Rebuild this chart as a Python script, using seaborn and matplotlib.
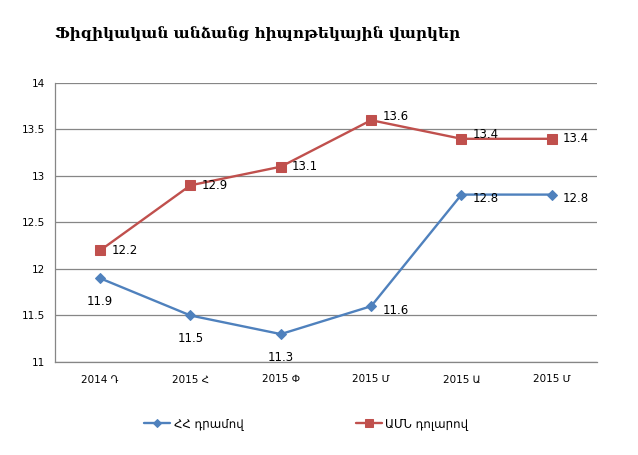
import pandas as pd
import seaborn as sns
import matplotlib.pyplot as plt

# quarters and series values
quarters = ["2014 Դ", "2015 Հ", "2015 Փ", "2015 Մ", "2015 Ա", "2015 Մ"]
amd_rates = [11.9, 11.5, 11.3, 11.6, 12.8, 12.8]
usd_rates = [12.2, 12.9, 13.1, 13.6, 13.4, 13.4]
amd_name = "ՀՀ դրամով"
usd_name = "ԱՄՆ դոլարով"
title = "Ֆիզիկական անձանց հիպոթեկային վարկեր"

sns.set_theme(style="white")
plt.rcParams["font.family"] = ["DejaVu Sans"]
plt.rcParams["text.color"] = "black"
plt.rcParams["xtick.color"] = "black"
plt.rcParams["ytick.color"] = "black"

pos = list(range(len(quarters)))
df_amd = pd.DataFrame({"pos": pos, "rate": amd_rates})
df_usd = pd.DataFrame({"pos": pos, "rate": usd_rates})

fig = plt.figure(figsize=(6.38, 4.55), dpi=100)
ax = fig.add_axes([0.0862, 0.2044, 0.8495, 0.6132])

blue = "#4F81BD"
red = "#C0504D"
sns.lineplot(x="pos", y="rate", data=df_amd, ax=ax, color=blue, marker="D",
             markersize=5.5, markeredgecolor=blue, linewidth=1.7, label=amd_name)
sns.lineplot(x="pos", y="rate", data=df_usd, ax=ax, color=red, marker="s",
             markersize=6.5, markeredgecolor=red, linewidth=1.7, label=usd_name)

# data labels
for i, v in enumerate(usd_rates):
    dy = 3 if i in (3, 4) else 0
    ax.annotate(f"{v}", (i, v), xytext=(8, dy), textcoords="offset points",
                ha="left", va="center", fontsize=8.5)
for i, v in enumerate(amd_rates):
    if i < 3:
        ax.annotate(f"{v}", (i, v), xytext=(0, -12), textcoords="offset points",
                    ha="center", va="top", fontsize=8.5)
    else:
        ax.annotate(f"{v}", (i, v), xytext=(8, -3), textcoords="offset points",
                    ha="left", va="center", fontsize=8.5)

ax.set_xlim(-0.5, len(quarters) - 0.5)
ax.set_ylim(11, 14)
ax.set_yticks([11, 11.5, 12, 12.5, 13, 13.5, 14])
ax.set_yticklabels(["11", "11.5", "12", "12.5", "13", "13.5", "14"])
ax.set_xticks(pos)
ax.set_xticklabels(quarters)
ax.set_xticks([p + 0.5 for p in range(-1, len(quarters))], minor=True)
ax.tick_params(axis="x", which="major", length=0, pad=9, labelsize=7.5)
ax.tick_params(axis="x", which="minor", length=4, color="#868686", direction="out")
ax.tick_params(axis="y", length=4, color="#868686", direction="out", labelsize=7.5, pad=3)
ax.set_xlabel("")
ax.set_ylabel("")
ax.grid(axis="y", color="#868686", linewidth=0.9)
ax.set_axisbelow(True)
for side in ["top", "right"]:
    ax.spines[side].set_visible(False)
for side in ["left", "bottom"]:
    ax.spines[side].set_color("#868686")
    ax.spines[side].set_linewidth(0.9)

ax.get_legend().remove()
handles, labels = ax.get_legend_handles_labels()
fig.legend(handles, labels, loc="center", bbox_to_anchor=(0.48, 0.068), ncol=2,
           frameon=False, fontsize=8.5, columnspacing=9.5, handlelength=2.2,
           handletextpad=0.3, markerscale=0.8)

fig.text(0.086, 0.927, title, fontsize=11, fontweight="bold",
         family=["DejaVu Serif"], ha="left", va="center")

plt.savefig("out.png", dpi=100)
